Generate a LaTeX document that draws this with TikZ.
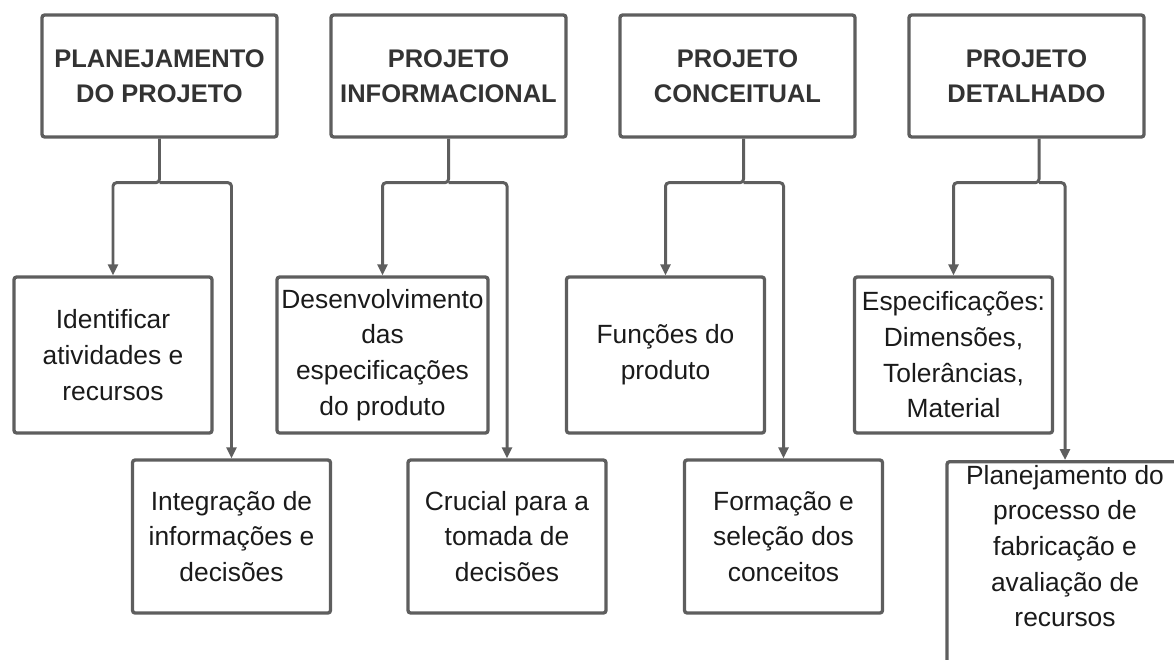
\documentclass[tikz,border=0pt]{standalone}
\usepackage{fontspec}
\setmainfont{Liberation Sans}
\usetikzlibrary{arrows.meta, calc}
\definecolor{linegray}{HTML}{5E5E5E}
\definecolor{headgray}{HTML}{333333}
\definecolor{txtblack}{HTML}{1A1A1A}
\tikzstyle{phase} = [rectangle, rounded corners=1.5pt, minimum width=4.7cm, minimum height=2.44cm, align=center, draw=linegray, line width=1.9pt, text=headgray, font=\fontsize{14.5}{20}\selectfont\bfseries]
\tikzstyle{task} = [rectangle, rounded corners=1.5pt, minimum width=3.96cm, minimum height=3.12cm, inner sep=2pt, align=center, draw=linegray, line width=1.9pt, text=txtblack, font=\fontsize{15}{20.3}\selectfont]
\tikzstyle{arrow} = [line width=1.7pt, draw=linegray, rounded corners=2pt, -{Triangle[length=0.22cm,width=0.2cm]}]

\begin{document}
\begin{tikzpicture}[node distance=5.78cm]
\useasboundingbox (0,0) rectangle (23.48,-13.18);
\clip (0,0) rectangle (23.48,-13.18);
\node (plan) [phase] at (3.19,-1.52) {PLANEJAMENTO\\DO PROJETO};
\node (inf) [phase, right of=plan] {PROJETO\\INFORMACIONAL};
\node (conc) [phase, right of=inf] {PROJETO\\CONCEITUAL};
\node (det) [phase, right of=conc] {PROJETO\\DETALHADO};
\node (ident) [task, below of=plan, xshift=-0.93cm, yshift=0.2cm] {Identificar\\atividades e\\recursos};
\node (desenv) [task, below of=inf, minimum width=4.22cm, xshift=-1.32cm, yshift=0.2cm] {Desenvolvimento\\das\\especificações\\do produto};
\node (func) [task, below of=conc, xshift=-1.44cm, yshift=0.2cm] {Funções do\\produto};
\node (espec) [task, below of=det, xshift=-1.46cm, yshift=0.2cm] {Especificações:\\Dimensões,\\Tolerâncias,\\Material};
\node (integ) [task, minimum height=3.06cm, below of=plan, xshift=1.44cm, yshift=-3.43cm] {Integração de\\informações e\\decisões};
\node (crucial) [task, minimum height=3.06cm, below of=inf, xshift=1.17cm, yshift=-3.43cm] {Crucial para a\\tomada de\\decisões};
\node (form) [task, minimum height=3.06cm, below of=conc, xshift=0.92cm, yshift=-3.43cm] {Formação e\\seleção dos\\conceitos};
\node (planfab) [task, below of=det, anchor=north, minimum width=4.72cm, minimum height=0cm, text depth=4.2cm, xshift=0.77cm, yshift=-1.90cm] {Planejamento do\\processo de\\fabricação e\\avaliação de\\recursos};
% junctions under each phase
\coordinate (j1) at ($(plan.south)+(0,-0.88)$);
\coordinate (j2) at ($(inf.south)+(0,-0.88)$);
\coordinate (j3) at ($(conc.south)+(0.12,-0.88)$);
\coordinate (j4) at ($(det.south)+(0.25,-0.88)$);
\draw [arrow] (plan.south) -- (j1) -| (ident.north);
\draw [arrow] (j1) -| (integ.north);
\draw [arrow] (inf.south) -- (j2) -| (desenv.north);
\draw [arrow] (j2) -| (crucial.north);
\draw [arrow] (conc.south -| j3) -- (j3) -| (func.north);
\draw [arrow] (j3) -| (form.north);
\draw [arrow] (det.south -| j4) -- (j4) -| (espec.north);
\draw [arrow] (j4) -| (planfab.north);
\end{tikzpicture}
\end{document}
